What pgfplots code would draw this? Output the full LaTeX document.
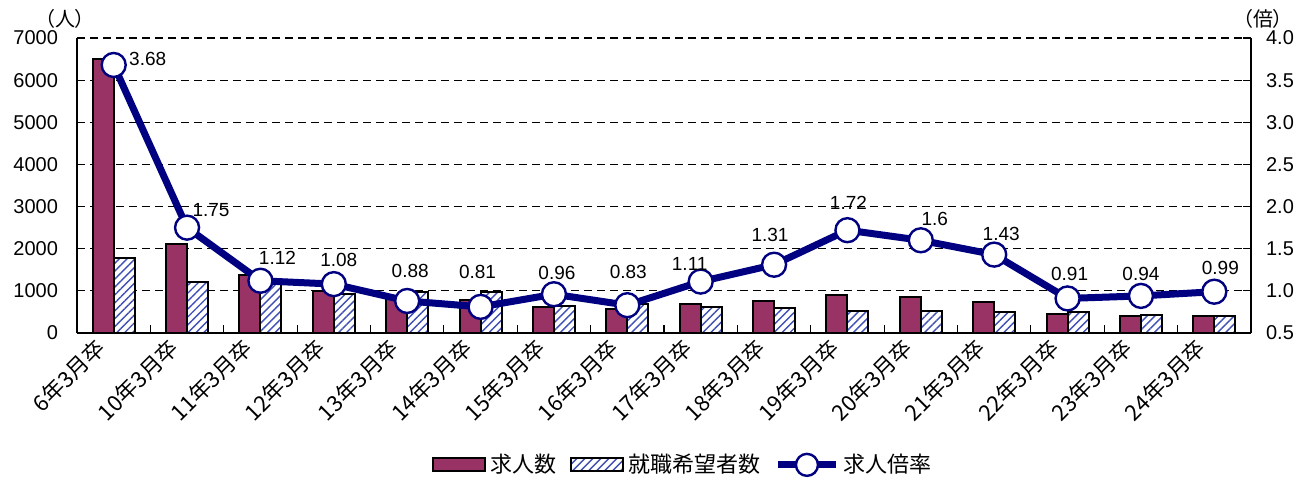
\documentclass[border=0pt]{standalone}
\usepackage{pgfplots}
\pgfplotsset{compat=1.18}
\usepackage{pgfplotstable}
\usepackage{fontspec}
\setmainfont{Liberation Sans}
\newfontfamily\jp{Noto Sans CJK JP}
\newfontfamily\jpp[RawFeature=+palt]{Noto Sans CJK JP}
\usetikzlibrary{patterns.meta}
\definecolor{plum}{HTML}{993366}
\definecolor{hatchblue}{HTML}{3F4FB5}
\definecolor{navyline}{HTML}{000080}

\pgfplotsset{
  mybarlegend/.style={legend image code/.code={\draw[##1] (0pt,-3.25pt) rectangle (26pt,3.25pt);}},
  hatchlegend/.style={legend image code/.code={%
     \begin{scope}
     \clip (0pt,-3.25pt) rectangle (26pt,3.25pt);
     \foreach \a in {-8,-4,...,28} {\draw[hatchblue, line width=0.7pt] (\a pt,-3.5pt) -- ++(7pt,7pt);}
     \end{scope}
     \draw[black, line width=1pt] (0pt,-3.25pt) rectangle (26pt,3.25pt);}},
  mylinelegend/.style={legend image code/.code={\draw[navyline, line width=3.5pt] (0pt,0pt) -- (29pt,0pt);
     \draw[navyline, fill=white, line width=1.2pt] (14.5pt,0pt) circle (5.5pt);}},
}

\pgfplotstableread{
x kyujin kibou
0 6500 1780
1 2110 1210
2 1380 1230
3 990 915
4 855 975
5 785 975
6 620 645
7 580 700
8 690 620
9 770 590
10 890 520
11 850 530
12 730 510
13 445 490
14 410 436
15 410 415
}\bars

\pgfplotstableread{
x ratio lab dx dy
0 3.68 3.68 17 3
1 1.75 1.75 12 9
2 1.12 1.12 8.5 11.5
3 1.08 1.08 2.5 12
4 0.88 0.88 1.5 15
5 0.81 0.81 -1.5 17.5
6 0.96 0.96 1.5 10.5
7 0.83 0.83 0.5 16.5
8 1.11 1.11 -5.5 9
9 1.31 1.31 -2 15
10 1.72 1.72 0.5 13.5
11 1.60 1.6 7 10.5
12 1.43 1.43 3.5 10.5
13 0.91 0.91 1 12
14 0.94 0.94 0 11
15 0.99 0.99 3 12
}\ratio

\begin{document}
\begin{tikzpicture}
\path[use as bounding box] (-38.5pt,-74pt) rectangle (616pt,166.5pt);
\begin{axis}[
  at={(0,0)}, anchor=south west,
  scale only axis, width=587pt, height=147.5pt,
  xmin=-0.5, xmax=15.5, ymin=0, ymax=7000,
  axis x line*=bottom, axis y line*=left,
  axis line style={line width=0.8pt, black},
  ybar, bar width=10.5pt,
  xtick={0,...,15},
  xticklabels={6年3月卒,10年3月卒,11年3月卒,12年3月卒,13年3月卒,14年3月卒,15年3月卒,16年3月卒,17年3月卒,18年3月卒,19年3月卒,20年3月卒,21年3月卒,22年3月卒,23年3月卒,24年3月卒},
  xticklabel style={xshift=-10pt, rotate=45, anchor=north east, font=\jp\fontsize{11}{13}\selectfont, inner sep=1pt},
  major x tick style={draw=none},
  minor xtick={0.5,1.5,...,14.5},
  minor x tick style={black, line width=0.6pt},
  minor tick length=4pt, major tick length=4pt, tick align=inside,
  ytick={0,1000,...,7000},
  ytick style={black, line width=0.6pt},
  yticklabel style={font=\fontsize{10}{12}\selectfont, xshift=-6pt},
  /pgf/number format/assume math mode=true,
  /pgf/number format/1000 sep={},
  ymajorgrids, grid style={black, line width=0.6pt, dash pattern=on 4pt off 2.5pt},
  legend columns=3,
  legend style={at={(0.517,-0.447)}, anchor=center, draw=none, font=\jp\fontsize{11}{13}\selectfont,
    /tikz/every even column/.append style={column sep=5pt}, inner sep=1pt},
  clip=false,
]
\addplot[fill=plum, draw=black, line width=1pt, bar shift=-5.25pt, mybarlegend]
  table[x=x, y=kyujin] {\bars};
\addlegendentry{求人数}
\addplot[fill=white, draw=none, bar shift=5.25pt, forget plot]
  table[x=x, y=kibou] {\bars};
\addplot[draw=black, line width=1pt, bar shift=5.25pt,
  pattern={Lines[angle=45,distance=2.8pt,line width=0.7pt]}, pattern color=hatchblue,
  forget plot]
  table[x=x, y=kibou] {\bars};
\addlegendimage{hatchlegend}
\addlegendentry{就職希望者数}
\addlegendimage{mylinelegend}
\addlegendentry{求人倍率}
\node[font=\jpp\fontsize{10}{12}\selectfont] at ([xshift=-6pt, yshift=9.5pt]rel axis cs:0,1) {（人）};
\end{axis}
\begin{axis}[
  at={(0,0)}, anchor=south west,
  scale only axis, width=587pt, height=147.5pt,
  xmin=-0.5, xmax=15.5, ymin=0.5, ymax=4.0,
  axis x line=none, axis y line*=right,
  axis line style={line width=0.8pt, black},
  ytick={0.5,1.0,...,4.0},
  major tick length=4pt, tick align=inside,
  ytick style={black, line width=0.6pt},
  yticklabel style={font=\fontsize{10}{12}\selectfont, xshift=4pt, /pgf/number format/.cd, fixed, fixed zerofill, precision=1},
  /pgf/number format/assume math mode=true,
  clip=false,
]
\addplot[navyline, line width=3.5pt, mark=*, mark size=6pt,
  mark options={fill=white, draw=navyline, line width=1.2pt},
  point meta=explicit symbolic,
  visualization depends on={\thisrow{dx} \as \dx},
  visualization depends on={\thisrow{dy} \as \dy},
  nodes near coords,
  nodes near coords style={anchor=center, xshift=\dx pt, yshift=\dy pt, font=\fontsize{9.5}{11}\selectfont, text=black},
] table[x=x, y=ratio, meta=lab] {\ratio};
\node[font=\jpp\fontsize{10}{12}\selectfont] at ([xshift=6pt, yshift=9.5pt]rel axis cs:1,1) {（倍）};
\end{axis}
\end{tikzpicture}
\end{document}
